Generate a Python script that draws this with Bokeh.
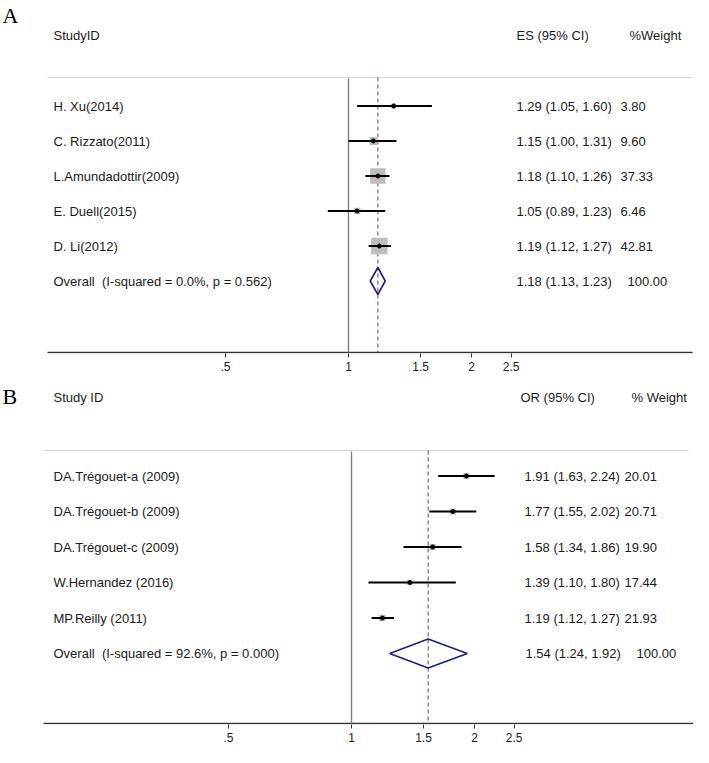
import math
from bokeh.plotting import figure
from bokeh.layouts import column
from bokeh.models import Range1d, FixedTicker, CustomJSTickFormatter
from bokeh.core.properties import value
from bokeh.embed import file_html
from bokeh.resources import INLINE

# ---------------- data ----------------
a_studies = ["H. Xu(2014)", "C. Rizzato(2011)", "L.Amundadottir(2009)", "E. Duell(2015)", "D. Li(2012)"]
a_es = [1.29, 1.15, 1.18, 1.05, 1.19]
a_lo = [1.05, 1.00, 1.10, 0.89, 1.12]
a_hi = [1.60, 1.31, 1.26, 1.23, 1.27]
a_weight = [3.80, 9.60, 37.33, 6.46, 42.81]
a_overall = [1.18, 1.13, 1.23]
a_overall_weight = 100.00
a_overall_label = "Overall\u00a0 (I-squared = 0.0%, p = 0.562)"
a_headers = ["StudyID", "ES (95% CI)", "%Weight"]

b_studies = ["DA.Trégouet-a (2009)", "DA.Trégouet-b (2009)", "DA.Trégouet-c (2009)",
             "W.Hernandez (2016)", "MP.Reilly (2011)"]
b_es = [1.91, 1.77, 1.58, 1.39, 1.19]
b_lo = [1.63, 1.55, 1.34, 1.10, 1.12]
b_hi = [2.24, 2.02, 1.86, 1.80, 1.27]
b_weight = [20.01, 20.71, 19.90, 17.44, 21.93]
b_overall = [1.54, 1.24, 1.92]
b_overall_weight = 100.00
b_overall_label = "Overall\u00a0 (I-squared = 92.6%, p = 0.000)"
b_headers = ["Study ID", "OR (95% CI)", "% Weight"]

tick_values = [0.5, 1, 1.5, 2, 2.5]
tick_labels = [".5", "1", "1.5", "2", "2.5"]

FONT = value("Liberation Sans")
W = 693


def make_panel(letter, headers, names, es, lo, hi, wt, ov, ov_w, ov_label, L):
    scale = L["scale"]
    one = L["one"]

    def fx(px):
        return math.exp((px - one) / scale)

    axis_y = L["axis"]
    p = figure(width=W, height=L["height"], x_axis_type="log",
               x_range=Range1d(fx(0), fx(W)),
               y_range=Range1d(axis_y + 1, 0),
               output_backend="svg", toolbar_location=None,
               y_axis_location=None, min_border_left=0, min_border_right=0,
               min_border_top=0, min_border_bottom=L["height"] - axis_y - 1)
    p.outline_line_color = None
    p.xgrid.visible = False
    p.ygrid.visible = False
    p.background_fill_color = "white"
    p.border_fill_color = "white"

    ax = p.xaxis[0]
    ax.ticker = FixedTicker(ticks=tick_values)
    ax.formatter = CustomJSTickFormatter(
        args=dict(vals=tick_values, labs=tick_labels),
        code="for (let i = 0; i < vals.length; i++) { if (Math.abs(vals[i]-tick) < 1e-9) return labs[i]; } return '';")
    ax.axis_line_color = None
    ax.major_tick_in = 0
    ax.major_tick_out = 4
    ax.major_tick_line_color = "#333333"
    ax.minor_tick_line_color = None
    ax.major_label_text_font = "Liberation Sans"
    ax.major_label_text_font_size = "12px"
    ax.major_label_text_color = "#222222"
    ax.major_label_standoff = L["standoff"]

    n = len(names)
    rows = [L["row0"] + L["step"] * i for i in range(n)]
    ov_row = L["row0"] + L["step"] * n
    rule_y = L["rule"]

    # header rule and axis baseline
    p.segment(x0=[fx(L["rule_x"][0])], y0=[rule_y], x1=[fx(L["rule_x"][1])], y1=[rule_y],
              line_color="#d4d4d4", line_width=1)
    p.segment(x0=[fx(L["axis_x"][0])], y0=[axis_y], x1=[fx(L["axis_x"][1])], y1=[axis_y],
              line_color="#333333", line_width=1.4)

    # null line and overall line
    p.segment(x0=[1], y0=[rule_y + 1], x1=[1], y1=[axis_y], line_color="#808080", line_width=1.4)
    p.segment(x0=[ov[0]], y0=[rule_y], x1=[ov[0]], y1=[axis_y], line_color="#8e3242",
              line_width=1, line_dash="4 3")

    # weight boxes
    sizes = [L["box_k"] * math.sqrt(w) for w in wt]
    p.scatter(x=es, y=rows, marker="square", size=sizes, fill_color="#bdbdbd",
              line_color=None)
    # confidence intervals
    p.segment(x0=lo, y0=rows, x1=hi, y1=rows, line_color="black", line_width=2)
    # point estimates
    p.scatter(x=es, y=rows, marker="circle", size=4, fill_color="black", line_color="black")

    # overall diamond
    h = L["dh"]
    p.patch(x=[ov[1], ov[0], ov[2], ov[0]], y=[ov_row, ov_row - h, ov_row, ov_row + h],
            fill_color=None, line_color="#1f1f7a", line_width=1.6)

    # texts
    txt = dict(text_font=FONT, text_font_size="13px", text_baseline="middle",
               text_align="left", text_color="#1a1a1a")
    p.text(x=[fx(L["letter_x"])], y=[L["letter_y"]], text=[letter],
           text_font=value("Liberation Serif"), text_font_size="22px",
           text_baseline="middle", text_align="left", text_color="black")
    hy = L["header"]
    p.text(x=[fx(L["name_x"]), fx(L["hes_x"]), fx(L["hw_x"])], y=[hy, hy, hy], text=headers, **txt)
    p.text(x=[fx(L["name_x"])] * (n + 1), y=rows + [ov_row], text=names + [ov_label], **txt)
    es_txt = ["%.2f (%.2f, %.2f)" % (e, l, u) for e, l, u in zip(es, lo, hi)]
    p.text(x=[fx(L["es_x"])] * n, y=rows, text=es_txt, **txt)
    p.text(x=[fx(L["w_x"])] * n, y=rows, text=["%.2f" % w for w in wt], **txt)
    p.text(x=[fx(L["oes_x"])], y=[ov_row], text=["%.2f (%.2f, %.2f)" % tuple(ov)], **txt)
    p.text(x=[fx(L["ow_x"])], y=[ov_row], text=["%.2f" % ov_w], **txt)
    return p


LA = dict(height=380, scale=177.5, one=348, axis=352, row0=105.5, step=35, rule=77,
          header=35, letter_x=2, letter_y=15, name_x=53, hes_x=516, hw_x=629,
          es_x=516, w_x=620, oes_x=516, ow_x=627, rule_x=(47, 692), axis_x=(47, 692),
          box_k=2.52, dh=13.5, standoff=4)
LB = dict(height=367, scale=177.5, one=351, axis=343, row0=95.5, step=35.5, rule=70,
          header=17, letter_x=2, letter_y=16, name_x=53, hes_x=520, hw_x=631,
          es_x=524, w_x=624, oes_x=525, ow_x=636, rule_x=(43, 688), axis_x=(43, 693),
          box_k=1.34, dh=14.5, standoff=4)

pA = make_panel("A", a_headers, a_studies, a_es, a_lo, a_hi, a_weight, a_overall,
                a_overall_weight, a_overall_label, LA)
pB = make_panel("B", b_headers, b_studies, b_es, b_lo, b_hi, b_weight, b_overall,
                b_overall_weight, b_overall_label, LB)

layout = column(pA, pB, spacing=0)
open("out.html", "w", encoding="utf-8").write(file_html(layout, INLINE))
